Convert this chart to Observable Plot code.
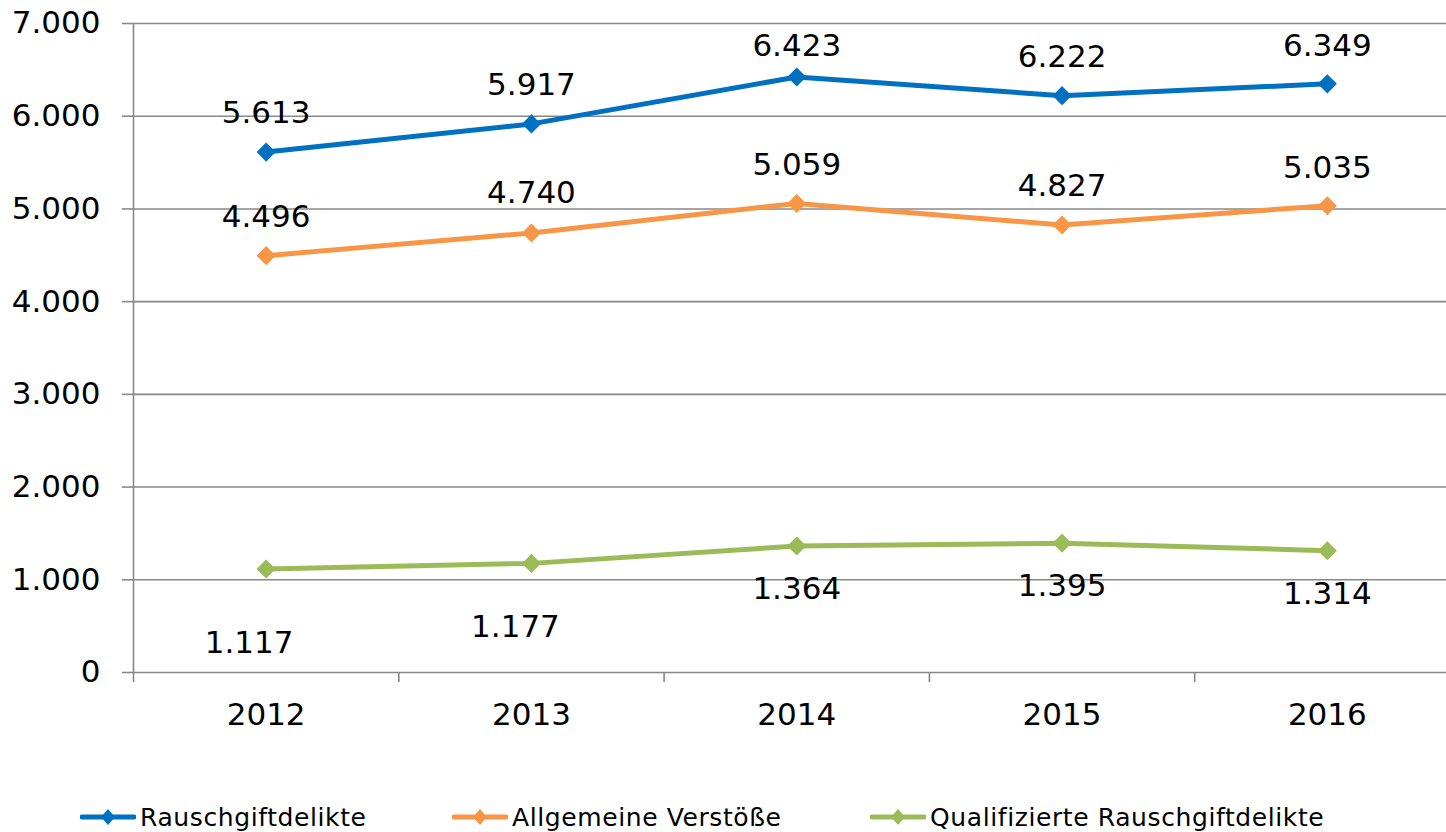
<!DOCTYPE html>
<html><head><meta charset="utf-8">
<script src="https://cdn.jsdelivr.net/npm/d3@7"></script>
<script src="https://cdn.jsdelivr.net/npm/@observablehq/plot@0.6"></script>
<style>
html,body{margin:0;padding:0;background:#fff;}
#wrap{position:relative;width:1446px;height:832px;overflow:hidden;font-family:"DejaVu Sans",Verdana,sans-serif;}
#legend{position:absolute;left:0;top:803px;width:1446px;height:28px;font-size:25px;letter-spacing:0.6px;color:#000;}
.item{position:absolute;top:0;height:28px;display:flex;align-items:center;white-space:nowrap;}
.item svg{display:block;margin-right:4px;}
</style></head><body><div id="wrap"><div id="legend"></div></div>
<script>
const years = [2012, 2013, 2014, 2015, 2016];
const seriesNames = ["Rauschgiftdelikte", "Allgemeine Verstöße", "Qualifizierte Rauschgiftdelikte"];
const rauschgiftdelikte = [5613, 5917, 6423, 6222, 6349];
const allgemeineVerstoesse = [4496, 4740, 5059, 4827, 5035];
const qualifizierte = [1117, 1177, 1364, 1395, 1314];
const yTicks = [0, 1000, 2000, 3000, 4000, 5000, 6000, 7000];
const colors = ["#0070C0", "#F79646", "#9BBB59"];

// label placement (layout, not data)
const labelDy = [[-39, -39, -31, -39, -38], [-39, -40, -38, -39, -38], [74, 64, 43, 43, 43]];
const labelDx = [[0, 0, 0, 0, 0], [0, 0, 0, 0, 0], [-17, -16, 0, 0, 0]];
const legendLeft = [80, 452, 870];

const seriesValues = [rauschgiftdelikte, allgemeineVerstoesse, qualifizierte];
const table = seriesNames.flatMap((s, si) => years.map((yr, i) => ({series: s, year: yr, value: seriesValues[si][i], si, i})));

const de = d3.formatLocale({decimal: ",", thousands: ".", grouping: [3], currency: ["", "€"]});
const fmt = de.format(",d");
const boundaries = years.map(y => y - 0.5);
const grid = "#888888";
const numSize = 31;

const labelMarks = table.map(d => Plot.text([d], {
  x: "year", y: "value", text: r => fmt(r.value),
  dx: labelDx[d.si][d.i], dy: labelDy[d.si][d.i], fontSize: numSize, fill: "black"
}));

const chart = Plot.plot({
  width: 1446,
  height: 760,
  marginTop: 23,
  marginBottom: 88,
  marginLeft: 133,
  marginRight: 0,
  style: {fontFamily: "DejaVu Sans, Verdana, sans-serif", fontSize: "30px", color: "black", background: "white"},
  x: {type: "linear", domain: [years[0] - 0.5, years[years.length - 1] + 0.5], range: [133, 1459.5]},
  y: {domain: [0, 7000], range: [672, 23]},
  color: {domain: seriesNames, range: colors},
  marks: [
    Plot.ruleY(yTicks, {stroke: grid, strokeWidth: 1.6}),
    Plot.ruleX([boundaries[0]], {y1: 0, y2: 7000, stroke: grid, strokeWidth: 1.6}),
    Plot.axisY(yTicks, {tickSize: 11, tickPadding: 22, tickFormat: fmt, fontSize: numSize, stroke: grid, strokeWidth: 1.6, fill: "black", label: null}),
    Plot.axisX(boundaries, {tickSize: 10, tickFormat: () => "", stroke: grid, strokeWidth: 1.6, label: null}),
    Plot.axisX(years, {tickSize: 0, tickPadding: 30, tickFormat: d => String(d), fontSize: numSize, fill: "black", label: null}),
    Plot.line(table, {x: "year", y: "value", z: "series", stroke: "series", strokeWidth: 5}),
    Plot.dot(table, {x: "year", y: "value", fill: "series", symbol: "diamond2", r: 8.6, stroke: null}),
    ...labelMarks
  ]
});
const wrap = document.getElementById("wrap");
wrap.insertBefore(chart, wrap.firstChild);

const legend = document.getElementById("legend");
seriesNames.forEach((name, i) => {
  const item = document.createElement("div");
  item.className = "item";
  item.style.left = legendLeft[i] + "px";
  item.innerHTML = `<svg width="56" height="22" viewBox="0 0 56 22"><line x1="2" y1="11" x2="54" y2="11" stroke="${colors[i]}" stroke-width="5" stroke-linecap="round"/><path d="M28 3 L35 11 L28 19 L21 11 Z" fill="${colors[i]}"/></svg><span>${name}</span>`;
  legend.appendChild(item);
});
</script>
</body></html>
